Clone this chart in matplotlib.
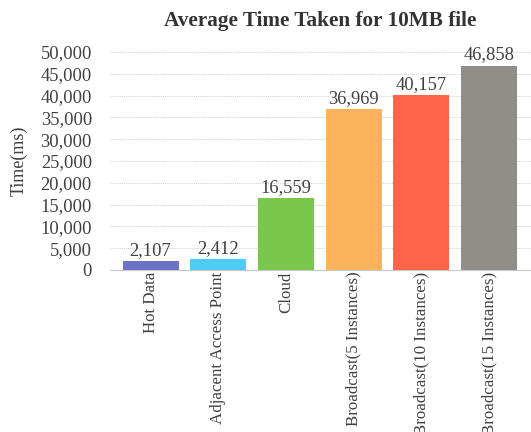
import matplotlib
matplotlib.use("Agg")
import matplotlib.pyplot as plt
from matplotlib.ticker import FuncFormatter

categories = ["Hot Data", "Adjacent Access Point", "Cloud", "Broadcast(5 Instances)",
              "Broadcast(10 Instances)", "Broadcast(15 Instances)"]
values = [2107, 2412, 16559, 36969, 40157, 46858]
colors = ["#6B72C8", "#4FCBF8", "#7AC74E", "#FDB35C", "#FD6648", "#918D88"]
yticks = [0, 5000, 10000, 15000, 20000, 25000, 30000, 35000, 40000, 45000, 50000]

plt.rcParams['font.family'] = ['Liberation Serif', 'DejaVu Serif']

fig = plt.figure(figsize=(5.31, 4.32), dpi=100)
ax = fig.add_axes([110/531, 1 - 270/432, (531-110)/531, (270-52)/432])

x = list(range(len(categories)))
bars = ax.bar(x, values, width=0.83, color=colors, zorder=3)
for xi, v in zip(x, values):
    ax.text(xi, v + 500, f"{v:,}", ha="center", va="bottom", fontsize=13.3, color="#404040")

ax.set_ylim(0, 50000)
ax.set_xlim(-0.6, 5.62)
ax.set_yticks(yticks)
ax.yaxis.set_major_formatter(FuncFormatter(lambda v, p: f"{int(v):,}"))
ax.set_xticks(x)
ax.set_xticklabels(categories, rotation=90, fontsize=12.2, color="#404040")
ax.tick_params(axis="y", labelsize=13.3, colors="#404040", length=0, pad=13)
ax.tick_params(axis="x", length=0, pad=1)
ax.grid(axis="y", linestyle=(0, (1, 1)), color="#d0d0d0", linewidth=0.7, zorder=0)
for s in ["top", "right", "left"]:
    ax.spines[s].set_visible(False)
ax.spines["bottom"].set_color("#c8c8c8")

ax.set_ylabel("Time(ms)", fontsize=13, color="#404040", labelpad=9)
fig.text(320/531, 1 - 21/432, "Average Time Taken for 10MB file", ha="center", va="center",
         fontsize=15.3, fontweight="bold", color="#333333")

fig.savefig("out.png", dpi=100)
